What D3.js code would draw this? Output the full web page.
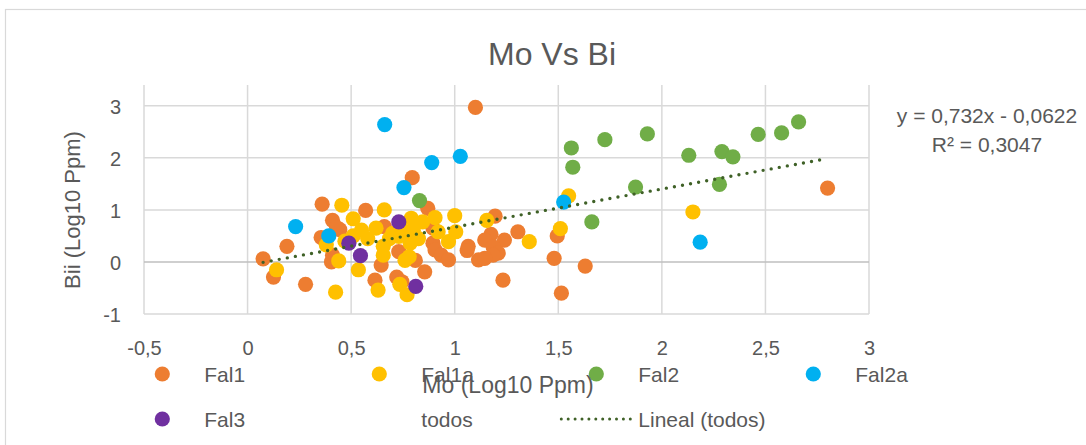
<!DOCTYPE html>
<html>
<head>
<meta charset="utf-8">
<script src="https://cdn.jsdelivr.net/npm/d3@7"></script>
<style>
  html, body { margin: 0; padding: 0; background: #ffffff; }
  svg { display: block; }
  text { font-family: "Liberation Sans", Arial, sans-serif; fill: #595959; }
</style>
</head>
<body>
<svg id="chart" width="1086" height="445"></svg>
<script>
// Mo (log10 ppm) vs Bi (log10 ppm) by sample group
const fal1 = [
  [1.10, 2.97], [0.795, 1.62], [0.87, 1.03], [0.36, 1.11], [0.41, 0.80],
  [0.57, 0.99], [0.445, 0.62], [0.43, 0.66], [0.355, 0.47], [0.19, 0.30],
  [0.075, 0.06], [0.125, -0.29], [0.28, -0.43], [0.41, 0.13], [0.405, 0.0],
  [0.645, -0.06], [0.615, -0.35], [0.72, -0.29], [0.745, -0.38], [0.855, -0.19],
  [0.81, 0.03], [0.66, 0.68], [0.73, 0.20], [0.895, 0.65], [0.895, 0.36],
  [0.905, 0.23], [0.935, 0.13], [0.97, 0.04], [1.065, 0.30], [1.06, 0.22],
  [1.115, 0.04], [1.195, 0.88], [1.175, 0.53], [1.145, 0.42], [1.24, 0.42],
  [1.305, 0.58], [1.185, 0.29], [1.21, 0.17], [1.185, 0.13], [1.145, 0.07],
  [1.233, -0.35], [1.48, 0.07], [1.495, 0.50], [1.63, -0.08], [1.515, -0.60],
  [2.80, 1.42]
];
const fal1a = [
  [0.455, 1.09], [0.51, 0.83], [0.66, 1.0], [1.0, 0.89], [0.905, 0.85],
  [1.155, 0.80], [1.36, 0.39], [0.14, -0.15], [0.38, 0.33], [0.44, 0.02],
  [0.535, -0.15], [0.425, -0.58], [0.63, -0.54], [0.735, -0.43], [0.77, -0.63],
  [0.76, 0.03], [0.655, 0.13], [0.55, 0.61], [0.62, 0.65], [0.51, 0.50],
  [0.58, 0.45], [0.685, 0.45], [0.785, 0.55], [0.655, 0.30], [0.79, 0.84],
  [0.845, 0.77], [0.80, 0.61], [0.825, 0.45], [0.92, 0.58], [1.005, 0.58],
  [0.97, 0.39], [0.78, 0.10], [0.75, 0.61], [0.73, 0.49], [0.785, 0.36],
  [0.70, 0.55], [0.47, 0.40], [1.55, 1.27], [1.51, 0.64], [2.15, 0.96]
];
const fal2 = [
  [0.83, 1.18], [1.563, 2.19], [1.57, 1.82], [1.725, 2.35], [1.93, 2.46],
  [1.873, 1.44], [1.662, 0.77], [2.13, 2.05], [2.29, 2.12], [2.343, 2.02],
  [2.278, 1.49], [2.465, 2.45], [2.578, 2.48], [2.66, 2.69]
];
const fal2a = [
  [0.662, 2.64], [0.889, 1.91], [1.027, 2.03], [0.755, 1.43], [0.232, 0.68],
  [0.392, 0.50], [1.526, 1.15], [2.185, 0.38]
];
const fal3 = [
  [0.73, 0.77], [0.489, 0.36], [0.545, 0.12], [0.812, -0.47]
];

const seriesNames = ["Fal1", "Fal1a", "Fal2", "Fal2a", "Fal3"];
const seriesColors = ["#ED7D31", "#FFC000", "#70AD47", "#00B0F0", "#7030A0"];
const seriesData = [fal1, fal1a, fal2, fal2a, fal3];

const xTicks = [-0.5, 0, 0.5, 1, 1.5, 2, 2.5, 3];
const yTicks = [-1, 0, 1, 2, 3];

// linear fit over all samples ("todos")
const trendSlope = 0.732;
const trendIntercept = -0.0622;
const trendEquation = "y = 0,732x - 0,0622";
const trendR2 = "R² = 0,3047";

const chartTitle = "Mo Vs Bi";
const xTitle = "Mo (Log10 Ppm)";
const yTitle = "Bii (Log10 Ppm)";

const svg = d3.select("#chart");
const fmt = v => String(v).replace(".", ",");

// chart frame
svg.append("rect")
  .attr("x", 5.5).attr("y", 9.5)
  .attr("width", 1100).attr("height", 460)
  .attr("fill", "#fff").attr("stroke", "#d9d9d9").attr("stroke-width", 1.2);

const x = d3.scaleLinear().domain([-0.5, 3]).range([144, 869]);
const y = d3.scaleLinear().domain([-1, 3.4]).range([314, 85]);

// gridlines
const grid = svg.append("g");
grid.selectAll("line.v").data(xTicks).join("line")
  .attr("x1", d => x(d)).attr("x2", d => x(d))
  .attr("y1", y.range()[1]).attr("y2", y.range()[0])
  .attr("stroke", "#d9d9d9").attr("stroke-width", 1.5);
grid.selectAll("line.h").data(yTicks).join("line")
  .attr("x1", x.range()[0]).attr("x2", x.range()[1])
  .attr("y1", d => y(d)).attr("y2", d => y(d))
  .attr("stroke", d => d === 0 ? "#bfbfbf" : "#d9d9d9")
  .attr("stroke-width", 1.5);

// tick labels via axis generators
const xAxis = d3.axisBottom(x).tickValues(xTicks).tickFormat(fmt).tickSize(0).tickPadding(0);
const gx = svg.append("g").attr("transform", "translate(0,340)").call(xAxis);
gx.select(".domain").remove();
gx.selectAll("text").attr("font-size", 20).attr("fill", "#595959")
  .attr("font-family", "Liberation Sans, Arial, sans-serif")
  .attr("dy", "0.75em");

const yAxis = d3.axisLeft(y).tickValues(yTicks).tickFormat(fmt).tickSize(0).tickPadding(23);
const gy = svg.append("g").attr("transform", "translate(144,0)").call(yAxis);
gy.select(".domain").remove();
gy.selectAll("text").attr("font-size", 20).attr("fill", "#595959")
  .attr("font-family", "Liberation Sans, Arial, sans-serif")
  .attr("dy", "0.36em");

// points, series by series
seriesData.forEach((pts, i) => {
  svg.append("g").selectAll("circle").data(pts).join("circle")
    .attr("cx", d => x(d[0])).attr("cy", d => y(d[1]))
    .attr("r", 7.6).attr("fill", seriesColors[i]);
});

// trendline across the full range of all samples
const allPts = seriesData.flat();
const [xMin, xMax] = d3.extent(allPts, d => d[0]);
const trendColor = "#3f6127";
svg.append("path")
  .datum([xMin, xMax])
  .attr("d", d3.line().x(d => x(d)).y(d => y(trendSlope * d + trendIntercept)))
  .attr("fill", "none").attr("stroke", trendColor)
  .attr("stroke-width", 3.4).attr("stroke-linecap", "round")
  .attr("stroke-dasharray", "0,8.2");

// trendline equation
svg.append("text").attr("x", 987).attr("y", 123).attr("text-anchor", "middle")
  .attr("font-size", 21).text(trendEquation);
svg.append("text").attr("x", 987).attr("y", 152).attr("text-anchor", "middle")
  .attr("font-size", 21).text(trendR2);

// title
svg.append("text").attr("x", 552).attr("y", 65).attr("text-anchor", "middle")
  .attr("font-size", 32).text(chartTitle);

// legend
const legendItems = [
  { name: "Fal1", color: seriesColors[0], col: 0, row: 0, kind: "dot" },
  { name: "Fal1a", color: seriesColors[1], col: 1, row: 0, kind: "dot" },
  { name: "Fal2", color: seriesColors[2], col: 2, row: 0, kind: "dot" },
  { name: "Fal2a", color: seriesColors[3], col: 3, row: 0, kind: "dot" },
  { name: "Fal3", color: seriesColors[4], col: 0, row: 1, kind: "dot" },
  { name: "todos", color: null, col: 1, row: 1, kind: "none" },
  { name: "Lineal (todos)", color: trendColor, col: 2, row: 1, kind: "line" }
];
const legend = svg.append("g");
legendItems.forEach(it => {
  const cx = 162.3 + 217 * it.col;
  const cy = 374 + 45 * it.row;
  if (it.kind === "dot") {
    legend.append("circle").attr("cx", cx).attr("cy", cy).attr("r", 7.6).attr("fill", it.color);
  } else if (it.kind === "line") {
    legend.append("line")
      .attr("x1", cx - 35).attr("x2", cx + 36)
      .attr("y1", cy).attr("y2", cy)
      .attr("stroke", it.color).attr("stroke-width", 3)
      .attr("stroke-linecap", "round").attr("stroke-dasharray", "0,6.9");
  }
  legend.append("text")
    .attr("x", cx + 42)
    .attr("y", cy).attr("dy", "0.36em")
    .attr("font-size", 21).text(it.name);
});

// axis titles
svg.append("text").attr("x", 508).attr("y", 393).attr("text-anchor", "middle")
  .attr("font-size", 23).text(xTitle);
svg.append("text")
  .attr("transform", "translate(80,210) rotate(-90)")
  .attr("text-anchor", "middle").attr("font-size", 22).text(yTitle);
</script>
</body>
</html>
